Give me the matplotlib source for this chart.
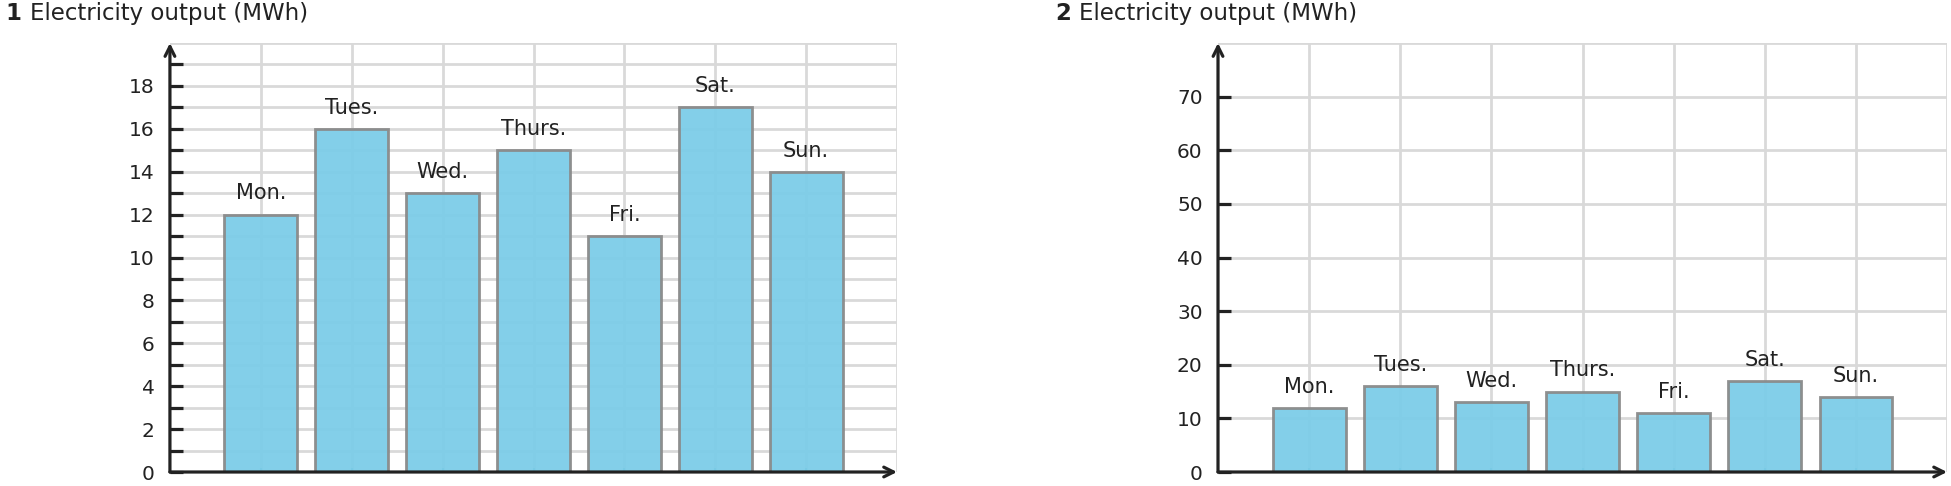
import matplotlib
matplotlib.use("Agg")
import matplotlib.pyplot as plt
import numpy as np

days = ["Mon.", "Tues.", "Wed.", "Thurs.", "Fri.", "Sat.", "Sun."]
output_mwh = [12, 16, 13, 15, 11, 17, 14]
chart_titles = ["Electricity output (MWh)", "Electricity output (MWh)"]
chart_numbers = ["1", "2"]
y_max = [20, 80]
y_grid_step = [1, 10]
y_label_step = [2, 10]

BAR_COLOR = "#7ccde8"
EDGE_COLOR = "#8a8a8a"
GRID_COLOR = "#d9d9d9"
AXIS_COLOR = "#222222"

fig = plt.figure(figsize=(19.51, 4.86), dpi=100)

positions = [[0.0871, 0.0288, 0.3727, 0.8827],
             [0.6243, 0.0288, 0.3737, 0.8827]]
title_x = [[0.0026, 0.0155], [0.5408, 0.5530]]

x = np.arange(len(days))
for i in range(2):
    ax = fig.add_axes(positions[i])
    ax.set_xlim(-1, len(days))
    ax.set_ylim(0, y_max[i])
    for gy in np.arange(y_grid_step[i], y_max[i] + 0.001, y_grid_step[i]):
        ax.axhline(gy, color=GRID_COLOR, lw=2, zorder=0)
    for gx in list(x) + [len(days)]:
        ax.axvline(gx, color=GRID_COLOR, lw=2, zorder=0)
    ax.bar(x, output_mwh, width=0.8, color=BAR_COLOR, edgecolor=EDGE_COLOR,
           linewidth=2, alpha=0.95, zorder=2)
    for xi, v, d in zip(x, output_mwh, days):
        ax.annotate(d, (xi, v), xytext=(0, 8), textcoords="offset points",
                    ha="center", va="bottom", fontsize=15, color="#222222", zorder=3)
    for s in ["top", "right", "left", "bottom"]:
        ax.spines[s].set_visible(False)
    ax.annotate("", xy=(0, 1.0), xytext=(0, 0), xycoords="axes fraction",
                arrowprops=dict(arrowstyle="->,head_width=0.35,head_length=0.7",
                                color=AXIS_COLOR, lw=2.3, shrinkA=0, shrinkB=0), zorder=5)
    ax.annotate("", xy=(1.0, 0), xytext=(0, 0), xycoords="axes fraction",
                arrowprops=dict(arrowstyle="->,head_width=0.35,head_length=0.7",
                                color=AXIS_COLOR, lw=2.3, shrinkA=0, shrinkB=0), zorder=5)
    ax.set_yticks(np.arange(0, y_max[i], y_label_step[i]))
    ax.set_yticks(np.arange(0, y_max[i], y_grid_step[i]), minor=True)
    ax.tick_params(axis="y", which="both", direction="in", length=9, width=2.3,
                   color=AXIS_COLOR, labelsize=14.5, labelcolor="#222222", pad=11)
    ax.set_xticks(x)
    ax.set_xticklabels([])
    ax.tick_params(axis="x", direction="in", length=3, width=1.5, color="#4a9ab8")
    fig.text(title_x[i][0], 0.972, chart_numbers[i], fontsize=16.5, fontweight="bold",
             color="#222222", va="center", ha="left")
    fig.text(title_x[i][1], 0.972, chart_titles[i], fontsize=16.5,
             color="#222222", va="center", ha="left")

fig.savefig("out.png", dpi=100)
